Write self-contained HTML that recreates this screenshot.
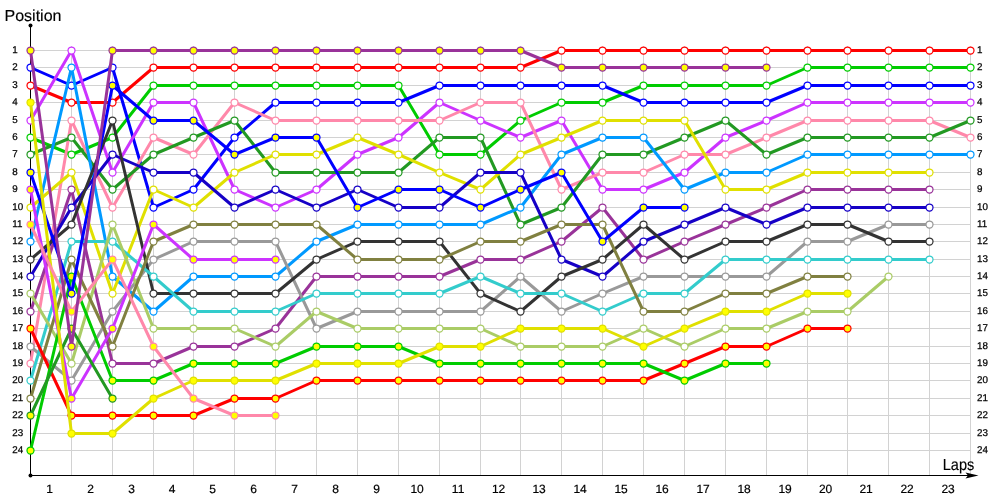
<!DOCTYPE html>
<html><head><meta charset="utf-8"><title>Lap chart</title>
<style>
html,body{margin:0;padding:0;background:#fff}
body{width:1000px;height:500px;overflow:hidden}
svg{display:block}
text{font-family:"Liberation Sans","DejaVu Sans",sans-serif;fill:#000;text-rendering:geometricPrecision}
.g line{stroke:#d2d2d2;stroke-width:1;shape-rendering:crispEdges}
.s polyline{fill:none;stroke-width:3;stroke-linejoin:round;stroke-linecap:round}
.s circle{stroke-width:1.25}
.pl{font-size:9.8px;stroke:#000;stroke-width:.25px}
.ll{font-size:12px;text-anchor:middle;stroke:#000;stroke-width:.2px}
.t{font-size:16px;stroke:#000;stroke-width:.15px}
</style></head><body>
<svg width="1000" height="500" viewBox="0 0 1000 500">
<rect width="1000" height="500" fill="#fff"/>
<g class="g">
<line x1="30" y1="50.5" x2="971" y2="50.5"/>
<line x1="30" y1="67.5" x2="971" y2="67.5"/>
<line x1="30" y1="85.5" x2="971" y2="85.5"/>
<line x1="30" y1="102.5" x2="971" y2="102.5"/>
<line x1="30" y1="120.5" x2="971" y2="120.5"/>
<line x1="30" y1="137.5" x2="971" y2="137.5"/>
<line x1="30" y1="154.5" x2="971" y2="154.5"/>
<line x1="30" y1="172.5" x2="971" y2="172.5"/>
<line x1="30" y1="189.5" x2="971" y2="189.5"/>
<line x1="30" y1="207.5" x2="971" y2="207.5"/>
<line x1="30" y1="224.5" x2="971" y2="224.5"/>
<line x1="30" y1="241.5" x2="971" y2="241.5"/>
<line x1="30" y1="259.5" x2="971" y2="259.5"/>
<line x1="30" y1="276.5" x2="971" y2="276.5"/>
<line x1="30" y1="293.5" x2="971" y2="293.5"/>
<line x1="30" y1="311.5" x2="971" y2="311.5"/>
<line x1="30" y1="328.5" x2="971" y2="328.5"/>
<line x1="30" y1="346.5" x2="971" y2="346.5"/>
<line x1="30" y1="363.5" x2="971" y2="363.5"/>
<line x1="30" y1="380.5" x2="971" y2="380.5"/>
<line x1="30" y1="398.5" x2="971" y2="398.5"/>
<line x1="30" y1="415.5" x2="971" y2="415.5"/>
<line x1="30" y1="433.5" x2="971" y2="433.5"/>
<line x1="30" y1="450.5" x2="971" y2="450.5"/>
<line x1="71.5" y1="46" x2="71.5" y2="475"/>
<line x1="112.5" y1="46" x2="112.5" y2="475"/>
<line x1="153.5" y1="46" x2="153.5" y2="475"/>
<line x1="193.5" y1="46" x2="193.5" y2="475"/>
<line x1="234.5" y1="46" x2="234.5" y2="475"/>
<line x1="275.5" y1="46" x2="275.5" y2="475"/>
<line x1="316.5" y1="46" x2="316.5" y2="475"/>
<line x1="357.5" y1="46" x2="357.5" y2="475"/>
<line x1="398.5" y1="46" x2="398.5" y2="475"/>
<line x1="439.5" y1="46" x2="439.5" y2="475"/>
<line x1="480.5" y1="46" x2="480.5" y2="475"/>
<line x1="520.5" y1="46" x2="520.5" y2="475"/>
<line x1="561.5" y1="46" x2="561.5" y2="475"/>
<line x1="602.5" y1="46" x2="602.5" y2="475"/>
<line x1="643.5" y1="46" x2="643.5" y2="475"/>
<line x1="684.5" y1="46" x2="684.5" y2="475"/>
<line x1="725.5" y1="46" x2="725.5" y2="475"/>
<line x1="766.5" y1="46" x2="766.5" y2="475"/>
<line x1="807.5" y1="46" x2="807.5" y2="475"/>
<line x1="847.5" y1="46" x2="847.5" y2="475"/>
<line x1="888.5" y1="46" x2="888.5" y2="475"/>
<line x1="929.5" y1="46" x2="929.5" y2="475"/>
<line x1="970.5" y1="46" x2="970.5" y2="475"/>
</g>
<g>
<line x1="30.5" y1="25" x2="30.5" y2="476" stroke="#000" stroke-width="1" shape-rendering="crispEdges"/>
<line x1="30" y1="475.5" x2="968" y2="475.5" stroke="#000" stroke-width="1" shape-rendering="crispEdges"/>
<circle cx="30.5" cy="25.5" r="2" fill="#000"/>
<circle cx="30.5" cy="475.5" r="2" fill="#000"/>
<path d="M978.5 475.5 L965.5 472.6 L968 475.5 L965.5 478.4 Z" fill="#000"/>
</g>
<text class="t" x="4.5" y="21">Position</text>
<text class="t" x="942.8" y="470" textLength="31.5" lengthAdjust="spacingAndGlyphs">Laps</text>
<g class="pl">
<text x="12.2" y="53.0">1</text><text x="977" y="53.0">1</text>
<text x="12.2" y="70.0">2</text><text x="977" y="70.0">2</text>
<text x="12.2" y="88.0">3</text><text x="977" y="88.0">3</text>
<text x="12.2" y="105.0">4</text><text x="977" y="105.0">4</text>
<text x="12.2" y="123.0">5</text><text x="977" y="123.0">5</text>
<text x="12.2" y="140.0">6</text><text x="977" y="140.0">6</text>
<text x="12.2" y="157.0">7</text><text x="977" y="157.0">7</text>
<text x="12.2" y="175.0">8</text><text x="977" y="175.0">8</text>
<text x="12.2" y="192.0">9</text><text x="977" y="192.0">9</text>
<text x="12.2" y="210.0">10</text><text x="977" y="210.0">10</text>
<text x="12.2" y="227.0">11</text><text x="977" y="227.0">11</text>
<text x="12.2" y="244.0">12</text><text x="977" y="244.0">12</text>
<text x="12.2" y="262.0">13</text><text x="977" y="262.0">13</text>
<text x="12.2" y="279.0">14</text><text x="977" y="279.0">14</text>
<text x="12.2" y="296.0">15</text><text x="977" y="296.0">15</text>
<text x="12.2" y="314.0">16</text><text x="977" y="314.0">16</text>
<text x="12.2" y="331.0">17</text><text x="977" y="331.0">17</text>
<text x="12.2" y="349.0">18</text><text x="977" y="349.0">18</text>
<text x="12.2" y="366.0">19</text><text x="977" y="366.0">19</text>
<text x="12.2" y="383.0">20</text><text x="977" y="383.0">20</text>
<text x="12.2" y="401.0">21</text><text x="977" y="401.0">21</text>
<text x="12.2" y="418.0">22</text><text x="977" y="418.0">22</text>
<text x="12.2" y="436.0">23</text><text x="977" y="436.0">23</text>
<text x="12.2" y="453.0">24</text><text x="977" y="453.0">24</text>
</g>
<g class="ll">
<text x="49.6" y="493">1</text>
<text x="90.6" y="493">2</text>
<text x="131.6" y="493">3</text>
<text x="172.1" y="493">4</text>
<text x="212.6" y="493">5</text>
<text x="253.6" y="493">6</text>
<text x="294.6" y="493">7</text>
<text x="335.6" y="493">8</text>
<text x="376.6" y="493">9</text>
<text x="417.1" y="493">10</text>
<text x="458.1" y="493">11</text>
<text x="498.6" y="493">12</text>
<text x="539.1" y="493">13</text>
<text x="580.1" y="493">14</text>
<text x="621.1" y="493">15</text>
<text x="662.1" y="493">16</text>
<text x="703.1" y="493">17</text>
<text x="744.1" y="493">18</text>
<text x="785.1" y="493">19</text>
<text x="825.6" y="493">20</text>
<text x="866.1" y="493">21</text>
<text x="907.1" y="493">22</text>
<text x="948.1" y="493">23</text>
</g>
<g class="s" stroke="#FF0000" fill="#FFFFFF">
<polyline points="30.5,85.5 71.5,102.5 112.5,102.5 153.5,67.5 193.5,67.5 234.5,67.5 275.5,67.5 316.5,67.5 357.5,67.5 398.5,67.5 439.5,67.5 480.5,67.5 520.5,67.5 561.5,50.5 602.5,50.5 643.5,50.5 684.5,50.5 725.5,50.5 766.5,50.5 807.5,50.5 847.5,50.5 888.5,50.5 929.5,50.5 970.5,50.5"/>
<circle cx="30.5" cy="85.5" r="3.5"/><circle cx="71.5" cy="102.5" r="3.5"/><circle cx="112.5" cy="102.5" r="3.5"/><circle cx="153.5" cy="67.5" r="3.5"/><circle cx="193.5" cy="67.5" r="3.5"/><circle cx="234.5" cy="67.5" r="3.5"/><circle cx="275.5" cy="67.5" r="3.5"/><circle cx="316.5" cy="67.5" r="3.5"/><circle cx="357.5" cy="67.5" r="3.5"/><circle cx="398.5" cy="67.5" r="3.5"/><circle cx="439.5" cy="67.5" r="3.5"/><circle cx="480.5" cy="67.5" r="3.5"/><circle cx="520.5" cy="67.5" r="3.5"/><circle cx="561.5" cy="50.5" r="3.5"/><circle cx="602.5" cy="50.5" r="3.5"/><circle cx="643.5" cy="50.5" r="3.5"/><circle cx="684.5" cy="50.5" r="3.5"/><circle cx="725.5" cy="50.5" r="3.5"/><circle cx="766.5" cy="50.5" r="3.5"/><circle cx="807.5" cy="50.5" r="3.5"/><circle cx="847.5" cy="50.5" r="3.5"/><circle cx="888.5" cy="50.5" r="3.5"/><circle cx="929.5" cy="50.5" r="3.5"/><circle cx="970.5" cy="50.5" r="3.5"/>
</g>
<g class="s" stroke="#00CC00" fill="#FFFFFF">
<polyline points="30.5,137.5 71.5,154.5 112.5,137.5 153.5,85.5 193.5,85.5 234.5,85.5 275.5,85.5 316.5,85.5 357.5,85.5 398.5,85.5 439.5,154.5 480.5,154.5 520.5,120.5 561.5,102.5 602.5,102.5 643.5,85.5 684.5,85.5 725.5,85.5 766.5,85.5 807.5,67.5 847.5,67.5 888.5,67.5 929.5,67.5 970.5,67.5"/>
<circle cx="30.5" cy="137.5" r="3.5"/><circle cx="71.5" cy="154.5" r="3.5"/><circle cx="112.5" cy="137.5" r="3.5"/><circle cx="153.5" cy="85.5" r="3.5"/><circle cx="193.5" cy="85.5" r="3.5"/><circle cx="234.5" cy="85.5" r="3.5"/><circle cx="275.5" cy="85.5" r="3.5"/><circle cx="316.5" cy="85.5" r="3.5"/><circle cx="357.5" cy="85.5" r="3.5"/><circle cx="398.5" cy="85.5" r="3.5"/><circle cx="439.5" cy="154.5" r="3.5"/><circle cx="480.5" cy="154.5" r="3.5"/><circle cx="520.5" cy="120.5" r="3.5"/><circle cx="561.5" cy="102.5" r="3.5"/><circle cx="602.5" cy="102.5" r="3.5"/><circle cx="643.5" cy="85.5" r="3.5"/><circle cx="684.5" cy="85.5" r="3.5"/><circle cx="725.5" cy="85.5" r="3.5"/><circle cx="766.5" cy="85.5" r="3.5"/><circle cx="807.5" cy="67.5" r="3.5"/><circle cx="847.5" cy="67.5" r="3.5"/><circle cx="888.5" cy="67.5" r="3.5"/><circle cx="929.5" cy="67.5" r="3.5"/><circle cx="970.5" cy="67.5" r="3.5"/>
</g>
<g class="s" stroke="#0000FF" fill="#FFFFFF">
<polyline points="30.5,67.5 71.5,85.5 112.5,67.5 153.5,207.5 193.5,189.5 234.5,137.5 275.5,102.5 316.5,102.5 357.5,102.5 398.5,102.5 439.5,85.5 480.5,85.5 520.5,85.5 561.5,85.5 602.5,85.5 643.5,102.5 684.5,102.5 725.5,102.5 766.5,102.5 807.5,85.5 847.5,85.5 888.5,85.5 929.5,85.5 970.5,85.5"/>
<circle cx="30.5" cy="67.5" r="3.5"/><circle cx="71.5" cy="85.5" r="3.5"/><circle cx="112.5" cy="67.5" r="3.5"/><circle cx="153.5" cy="207.5" r="3.5"/><circle cx="193.5" cy="189.5" r="3.5"/><circle cx="234.5" cy="137.5" r="3.5"/><circle cx="275.5" cy="102.5" r="3.5"/><circle cx="316.5" cy="102.5" r="3.5"/><circle cx="357.5" cy="102.5" r="3.5"/><circle cx="398.5" cy="102.5" r="3.5"/><circle cx="439.5" cy="85.5" r="3.5"/><circle cx="480.5" cy="85.5" r="3.5"/><circle cx="520.5" cy="85.5" r="3.5"/><circle cx="561.5" cy="85.5" r="3.5"/><circle cx="602.5" cy="85.5" r="3.5"/><circle cx="643.5" cy="102.5" r="3.5"/><circle cx="684.5" cy="102.5" r="3.5"/><circle cx="725.5" cy="102.5" r="3.5"/><circle cx="766.5" cy="102.5" r="3.5"/><circle cx="807.5" cy="85.5" r="3.5"/><circle cx="847.5" cy="85.5" r="3.5"/><circle cx="888.5" cy="85.5" r="3.5"/><circle cx="929.5" cy="85.5" r="3.5"/><circle cx="970.5" cy="85.5" r="3.5"/>
</g>
<g class="s" stroke="#CC33FF" fill="#FFFFFF">
<polyline points="30.5,120.5 71.5,50.5 112.5,172.5 153.5,102.5 193.5,102.5 234.5,189.5 275.5,207.5 316.5,189.5 357.5,154.5 398.5,137.5 439.5,102.5 480.5,120.5 520.5,137.5 561.5,120.5 602.5,189.5 643.5,189.5 684.5,172.5 725.5,137.5 766.5,120.5 807.5,102.5 847.5,102.5 888.5,102.5 929.5,102.5 970.5,102.5"/>
<circle cx="30.5" cy="120.5" r="3.5"/><circle cx="71.5" cy="50.5" r="3.5"/><circle cx="112.5" cy="172.5" r="3.5"/><circle cx="153.5" cy="102.5" r="3.5"/><circle cx="193.5" cy="102.5" r="3.5"/><circle cx="234.5" cy="189.5" r="3.5"/><circle cx="275.5" cy="207.5" r="3.5"/><circle cx="316.5" cy="189.5" r="3.5"/><circle cx="357.5" cy="154.5" r="3.5"/><circle cx="398.5" cy="137.5" r="3.5"/><circle cx="439.5" cy="102.5" r="3.5"/><circle cx="480.5" cy="120.5" r="3.5"/><circle cx="520.5" cy="137.5" r="3.5"/><circle cx="561.5" cy="120.5" r="3.5"/><circle cx="602.5" cy="189.5" r="3.5"/><circle cx="643.5" cy="189.5" r="3.5"/><circle cx="684.5" cy="172.5" r="3.5"/><circle cx="725.5" cy="137.5" r="3.5"/><circle cx="766.5" cy="120.5" r="3.5"/><circle cx="807.5" cy="102.5" r="3.5"/><circle cx="847.5" cy="102.5" r="3.5"/><circle cx="888.5" cy="102.5" r="3.5"/><circle cx="929.5" cy="102.5" r="3.5"/><circle cx="970.5" cy="102.5" r="3.5"/>
</g>
<g class="s" stroke="#FF88AA" fill="#FFFFFF">
<polyline points="30.5,363.5 71.5,120.5 112.5,207.5 153.5,137.5 193.5,154.5 234.5,102.5 275.5,120.5 316.5,120.5 357.5,120.5 398.5,120.5 439.5,120.5 480.5,102.5 520.5,102.5 561.5,189.5 602.5,172.5 643.5,172.5 684.5,154.5 725.5,154.5 766.5,137.5 807.5,120.5 847.5,120.5 888.5,120.5 929.5,120.5 970.5,137.5"/>
<circle cx="30.5" cy="363.5" r="3.5"/><circle cx="71.5" cy="120.5" r="3.5"/><circle cx="112.5" cy="207.5" r="3.5"/><circle cx="153.5" cy="137.5" r="3.5"/><circle cx="193.5" cy="154.5" r="3.5"/><circle cx="234.5" cy="102.5" r="3.5"/><circle cx="275.5" cy="120.5" r="3.5"/><circle cx="316.5" cy="120.5" r="3.5"/><circle cx="357.5" cy="120.5" r="3.5"/><circle cx="398.5" cy="120.5" r="3.5"/><circle cx="439.5" cy="120.5" r="3.5"/><circle cx="480.5" cy="102.5" r="3.5"/><circle cx="520.5" cy="102.5" r="3.5"/><circle cx="561.5" cy="189.5" r="3.5"/><circle cx="602.5" cy="172.5" r="3.5"/><circle cx="643.5" cy="172.5" r="3.5"/><circle cx="684.5" cy="154.5" r="3.5"/><circle cx="725.5" cy="154.5" r="3.5"/><circle cx="766.5" cy="137.5" r="3.5"/><circle cx="807.5" cy="120.5" r="3.5"/><circle cx="847.5" cy="120.5" r="3.5"/><circle cx="888.5" cy="120.5" r="3.5"/><circle cx="929.5" cy="120.5" r="3.5"/><circle cx="970.5" cy="137.5" r="3.5"/>
</g>
<g class="s" stroke="#229922" fill="#FFFFFF">
<polyline points="30.5,154.5 71.5,137.5 112.5,189.5 153.5,154.5 193.5,137.5 234.5,120.5 275.5,172.5 316.5,172.5 357.5,172.5 398.5,172.5 439.5,137.5 480.5,137.5 520.5,224.5 561.5,207.5 602.5,154.5 643.5,154.5 684.5,137.5 725.5,120.5 766.5,154.5 807.5,137.5 847.5,137.5 888.5,137.5 929.5,137.5 970.5,120.5"/>
<circle cx="30.5" cy="154.5" r="3.5"/><circle cx="71.5" cy="137.5" r="3.5"/><circle cx="112.5" cy="189.5" r="3.5"/><circle cx="153.5" cy="154.5" r="3.5"/><circle cx="193.5" cy="137.5" r="3.5"/><circle cx="234.5" cy="120.5" r="3.5"/><circle cx="275.5" cy="172.5" r="3.5"/><circle cx="316.5" cy="172.5" r="3.5"/><circle cx="357.5" cy="172.5" r="3.5"/><circle cx="398.5" cy="172.5" r="3.5"/><circle cx="439.5" cy="137.5" r="3.5"/><circle cx="480.5" cy="137.5" r="3.5"/><circle cx="520.5" cy="224.5" r="3.5"/><circle cx="561.5" cy="207.5" r="3.5"/><circle cx="602.5" cy="154.5" r="3.5"/><circle cx="643.5" cy="154.5" r="3.5"/><circle cx="684.5" cy="137.5" r="3.5"/><circle cx="725.5" cy="120.5" r="3.5"/><circle cx="766.5" cy="154.5" r="3.5"/><circle cx="807.5" cy="137.5" r="3.5"/><circle cx="847.5" cy="137.5" r="3.5"/><circle cx="888.5" cy="137.5" r="3.5"/><circle cx="929.5" cy="137.5" r="3.5"/><circle cx="970.5" cy="120.5" r="3.5"/>
</g>
<g class="s" stroke="#0099FF" fill="#FFFFFF">
<polyline points="30.5,241.5 71.5,67.5 112.5,276.5 153.5,311.5 193.5,276.5 234.5,276.5 275.5,276.5 316.5,241.5 357.5,224.5 398.5,224.5 439.5,224.5 480.5,224.5 520.5,207.5 561.5,154.5 602.5,137.5 643.5,137.5 684.5,189.5 725.5,172.5 766.5,172.5 807.5,154.5 847.5,154.5 888.5,154.5 929.5,154.5 970.5,154.5"/>
<circle cx="30.5" cy="241.5" r="3.5"/><circle cx="71.5" cy="67.5" r="3.5"/><circle cx="112.5" cy="276.5" r="3.5"/><circle cx="153.5" cy="311.5" r="3.5"/><circle cx="193.5" cy="276.5" r="3.5"/><circle cx="234.5" cy="276.5" r="3.5"/><circle cx="275.5" cy="276.5" r="3.5"/><circle cx="316.5" cy="241.5" r="3.5"/><circle cx="357.5" cy="224.5" r="3.5"/><circle cx="398.5" cy="224.5" r="3.5"/><circle cx="439.5" cy="224.5" r="3.5"/><circle cx="480.5" cy="224.5" r="3.5"/><circle cx="520.5" cy="207.5" r="3.5"/><circle cx="561.5" cy="154.5" r="3.5"/><circle cx="602.5" cy="137.5" r="3.5"/><circle cx="643.5" cy="137.5" r="3.5"/><circle cx="684.5" cy="189.5" r="3.5"/><circle cx="725.5" cy="172.5" r="3.5"/><circle cx="766.5" cy="172.5" r="3.5"/><circle cx="807.5" cy="154.5" r="3.5"/><circle cx="847.5" cy="154.5" r="3.5"/><circle cx="888.5" cy="154.5" r="3.5"/><circle cx="929.5" cy="154.5" r="3.5"/><circle cx="970.5" cy="154.5" r="3.5"/>
</g>
<g class="s" stroke="#E0E000" fill="#FFFFFF">
<polyline points="30.5,207.5 71.5,172.5 112.5,293.5 153.5,189.5 193.5,207.5 234.5,172.5 275.5,154.5 316.5,154.5 357.5,137.5 398.5,154.5 439.5,172.5 480.5,189.5 520.5,154.5 561.5,137.5 602.5,120.5 643.5,120.5 684.5,120.5 725.5,189.5 766.5,189.5 807.5,172.5 847.5,172.5 888.5,172.5 929.5,172.5"/>
<circle cx="30.5" cy="207.5" r="3.5"/><circle cx="71.5" cy="172.5" r="3.5"/><circle cx="112.5" cy="293.5" r="3.5"/><circle cx="153.5" cy="189.5" r="3.5"/><circle cx="193.5" cy="207.5" r="3.5"/><circle cx="234.5" cy="172.5" r="3.5"/><circle cx="275.5" cy="154.5" r="3.5"/><circle cx="316.5" cy="154.5" r="3.5"/><circle cx="357.5" cy="137.5" r="3.5"/><circle cx="398.5" cy="154.5" r="3.5"/><circle cx="439.5" cy="172.5" r="3.5"/><circle cx="480.5" cy="189.5" r="3.5"/><circle cx="520.5" cy="154.5" r="3.5"/><circle cx="561.5" cy="137.5" r="3.5"/><circle cx="602.5" cy="120.5" r="3.5"/><circle cx="643.5" cy="120.5" r="3.5"/><circle cx="684.5" cy="120.5" r="3.5"/><circle cx="725.5" cy="189.5" r="3.5"/><circle cx="766.5" cy="189.5" r="3.5"/><circle cx="807.5" cy="172.5" r="3.5"/><circle cx="847.5" cy="172.5" r="3.5"/><circle cx="888.5" cy="172.5" r="3.5"/><circle cx="929.5" cy="172.5" r="3.5"/>
</g>
<g class="s" stroke="#993399" fill="#FFFFFF">
<polyline points="30.5,311.5 71.5,189.5 112.5,363.5 153.5,363.5 193.5,346.5 234.5,346.5 275.5,328.5 316.5,276.5 357.5,276.5 398.5,276.5 439.5,276.5 480.5,259.5 520.5,259.5 561.5,241.5 602.5,207.5 643.5,259.5 684.5,241.5 725.5,224.5 766.5,207.5 807.5,189.5 847.5,189.5 888.5,189.5 929.5,189.5"/>
<circle cx="30.5" cy="311.5" r="3.5"/><circle cx="71.5" cy="189.5" r="3.5"/><circle cx="112.5" cy="363.5" r="3.5"/><circle cx="153.5" cy="363.5" r="3.5"/><circle cx="193.5" cy="346.5" r="3.5"/><circle cx="234.5" cy="346.5" r="3.5"/><circle cx="275.5" cy="328.5" r="3.5"/><circle cx="316.5" cy="276.5" r="3.5"/><circle cx="357.5" cy="276.5" r="3.5"/><circle cx="398.5" cy="276.5" r="3.5"/><circle cx="439.5" cy="276.5" r="3.5"/><circle cx="480.5" cy="259.5" r="3.5"/><circle cx="520.5" cy="259.5" r="3.5"/><circle cx="561.5" cy="241.5" r="3.5"/><circle cx="602.5" cy="207.5" r="3.5"/><circle cx="643.5" cy="259.5" r="3.5"/><circle cx="684.5" cy="241.5" r="3.5"/><circle cx="725.5" cy="224.5" r="3.5"/><circle cx="766.5" cy="207.5" r="3.5"/><circle cx="807.5" cy="189.5" r="3.5"/><circle cx="847.5" cy="189.5" r="3.5"/><circle cx="888.5" cy="189.5" r="3.5"/><circle cx="929.5" cy="189.5" r="3.5"/>
</g>
<g class="s" stroke="#1600C6" fill="#FFFFFF">
<polyline points="30.5,276.5 71.5,207.5 112.5,154.5 153.5,172.5 193.5,172.5 234.5,207.5 275.5,189.5 316.5,207.5 357.5,189.5 398.5,207.5 439.5,207.5 480.5,172.5 520.5,172.5 561.5,259.5 602.5,276.5 643.5,241.5 684.5,224.5 725.5,207.5 766.5,224.5 807.5,207.5 847.5,207.5 888.5,207.5 929.5,207.5"/>
<circle cx="30.5" cy="276.5" r="3.5"/><circle cx="71.5" cy="207.5" r="3.5"/><circle cx="112.5" cy="154.5" r="3.5"/><circle cx="153.5" cy="172.5" r="3.5"/><circle cx="193.5" cy="172.5" r="3.5"/><circle cx="234.5" cy="207.5" r="3.5"/><circle cx="275.5" cy="189.5" r="3.5"/><circle cx="316.5" cy="207.5" r="3.5"/><circle cx="357.5" cy="189.5" r="3.5"/><circle cx="398.5" cy="207.5" r="3.5"/><circle cx="439.5" cy="207.5" r="3.5"/><circle cx="480.5" cy="172.5" r="3.5"/><circle cx="520.5" cy="172.5" r="3.5"/><circle cx="561.5" cy="259.5" r="3.5"/><circle cx="602.5" cy="276.5" r="3.5"/><circle cx="643.5" cy="241.5" r="3.5"/><circle cx="684.5" cy="224.5" r="3.5"/><circle cx="725.5" cy="207.5" r="3.5"/><circle cx="766.5" cy="224.5" r="3.5"/><circle cx="807.5" cy="207.5" r="3.5"/><circle cx="847.5" cy="207.5" r="3.5"/><circle cx="888.5" cy="207.5" r="3.5"/><circle cx="929.5" cy="207.5" r="3.5"/>
</g>
<g class="s" stroke="#999999" fill="#FFFFFF">
<polyline points="30.5,346.5 71.5,380.5 112.5,311.5 153.5,259.5 193.5,241.5 234.5,241.5 275.5,241.5 316.5,328.5 357.5,311.5 398.5,311.5 439.5,311.5 480.5,311.5 520.5,276.5 561.5,311.5 602.5,293.5 643.5,276.5 684.5,276.5 725.5,276.5 766.5,276.5 807.5,241.5 847.5,241.5 888.5,224.5 929.5,224.5"/>
<circle cx="30.5" cy="346.5" r="3.5"/><circle cx="71.5" cy="380.5" r="3.5"/><circle cx="112.5" cy="311.5" r="3.5"/><circle cx="153.5" cy="259.5" r="3.5"/><circle cx="193.5" cy="241.5" r="3.5"/><circle cx="234.5" cy="241.5" r="3.5"/><circle cx="275.5" cy="241.5" r="3.5"/><circle cx="316.5" cy="328.5" r="3.5"/><circle cx="357.5" cy="311.5" r="3.5"/><circle cx="398.5" cy="311.5" r="3.5"/><circle cx="439.5" cy="311.5" r="3.5"/><circle cx="480.5" cy="311.5" r="3.5"/><circle cx="520.5" cy="276.5" r="3.5"/><circle cx="561.5" cy="311.5" r="3.5"/><circle cx="602.5" cy="293.5" r="3.5"/><circle cx="643.5" cy="276.5" r="3.5"/><circle cx="684.5" cy="276.5" r="3.5"/><circle cx="725.5" cy="276.5" r="3.5"/><circle cx="766.5" cy="276.5" r="3.5"/><circle cx="807.5" cy="241.5" r="3.5"/><circle cx="847.5" cy="241.5" r="3.5"/><circle cx="888.5" cy="224.5" r="3.5"/><circle cx="929.5" cy="224.5" r="3.5"/>
</g>
<g class="s" stroke="#333333" fill="#FFFFFF">
<polyline points="30.5,259.5 71.5,224.5 112.5,120.5 153.5,293.5 193.5,293.5 234.5,293.5 275.5,293.5 316.5,259.5 357.5,241.5 398.5,241.5 439.5,241.5 480.5,293.5 520.5,311.5 561.5,276.5 602.5,259.5 643.5,224.5 684.5,259.5 725.5,241.5 766.5,241.5 807.5,224.5 847.5,224.5 888.5,241.5 929.5,241.5"/>
<circle cx="30.5" cy="259.5" r="3.5"/><circle cx="71.5" cy="224.5" r="3.5"/><circle cx="112.5" cy="120.5" r="3.5"/><circle cx="153.5" cy="293.5" r="3.5"/><circle cx="193.5" cy="293.5" r="3.5"/><circle cx="234.5" cy="293.5" r="3.5"/><circle cx="275.5" cy="293.5" r="3.5"/><circle cx="316.5" cy="259.5" r="3.5"/><circle cx="357.5" cy="241.5" r="3.5"/><circle cx="398.5" cy="241.5" r="3.5"/><circle cx="439.5" cy="241.5" r="3.5"/><circle cx="480.5" cy="293.5" r="3.5"/><circle cx="520.5" cy="311.5" r="3.5"/><circle cx="561.5" cy="276.5" r="3.5"/><circle cx="602.5" cy="259.5" r="3.5"/><circle cx="643.5" cy="224.5" r="3.5"/><circle cx="684.5" cy="259.5" r="3.5"/><circle cx="725.5" cy="241.5" r="3.5"/><circle cx="766.5" cy="241.5" r="3.5"/><circle cx="807.5" cy="224.5" r="3.5"/><circle cx="847.5" cy="224.5" r="3.5"/><circle cx="888.5" cy="241.5" r="3.5"/><circle cx="929.5" cy="241.5" r="3.5"/>
</g>
<g class="s" stroke="#33CCCC" fill="#FFFFFF">
<polyline points="30.5,380.5 71.5,241.5 112.5,241.5 153.5,276.5 193.5,311.5 234.5,311.5 275.5,311.5 316.5,293.5 357.5,293.5 398.5,293.5 439.5,293.5 480.5,276.5 520.5,293.5 561.5,293.5 602.5,311.5 643.5,293.5 684.5,293.5 725.5,259.5 766.5,259.5 807.5,259.5 847.5,259.5 888.5,259.5 929.5,259.5"/>
<circle cx="30.5" cy="380.5" r="3.5"/><circle cx="71.5" cy="241.5" r="3.5"/><circle cx="112.5" cy="241.5" r="3.5"/><circle cx="153.5" cy="276.5" r="3.5"/><circle cx="193.5" cy="311.5" r="3.5"/><circle cx="234.5" cy="311.5" r="3.5"/><circle cx="275.5" cy="311.5" r="3.5"/><circle cx="316.5" cy="293.5" r="3.5"/><circle cx="357.5" cy="293.5" r="3.5"/><circle cx="398.5" cy="293.5" r="3.5"/><circle cx="439.5" cy="293.5" r="3.5"/><circle cx="480.5" cy="276.5" r="3.5"/><circle cx="520.5" cy="293.5" r="3.5"/><circle cx="561.5" cy="293.5" r="3.5"/><circle cx="602.5" cy="311.5" r="3.5"/><circle cx="643.5" cy="293.5" r="3.5"/><circle cx="684.5" cy="293.5" r="3.5"/><circle cx="725.5" cy="259.5" r="3.5"/><circle cx="766.5" cy="259.5" r="3.5"/><circle cx="807.5" cy="259.5" r="3.5"/><circle cx="847.5" cy="259.5" r="3.5"/><circle cx="888.5" cy="259.5" r="3.5"/><circle cx="929.5" cy="259.5" r="3.5"/>
</g>
<g class="s" stroke="#AACC66" fill="#FFFFFF">
<polyline points="30.5,293.5 71.5,363.5 112.5,224.5 153.5,328.5 193.5,328.5 234.5,328.5 275.5,346.5 316.5,311.5 357.5,328.5 398.5,328.5 439.5,328.5 480.5,328.5 520.5,346.5 561.5,346.5 602.5,346.5 643.5,328.5 684.5,346.5 725.5,328.5 766.5,328.5 807.5,311.5 847.5,311.5 888.5,276.5"/>
<circle cx="30.5" cy="293.5" r="3.5"/><circle cx="71.5" cy="363.5" r="3.5"/><circle cx="112.5" cy="224.5" r="3.5"/><circle cx="153.5" cy="328.5" r="3.5"/><circle cx="193.5" cy="328.5" r="3.5"/><circle cx="234.5" cy="328.5" r="3.5"/><circle cx="275.5" cy="346.5" r="3.5"/><circle cx="316.5" cy="311.5" r="3.5"/><circle cx="357.5" cy="328.5" r="3.5"/><circle cx="398.5" cy="328.5" r="3.5"/><circle cx="439.5" cy="328.5" r="3.5"/><circle cx="480.5" cy="328.5" r="3.5"/><circle cx="520.5" cy="346.5" r="3.5"/><circle cx="561.5" cy="346.5" r="3.5"/><circle cx="602.5" cy="346.5" r="3.5"/><circle cx="643.5" cy="328.5" r="3.5"/><circle cx="684.5" cy="346.5" r="3.5"/><circle cx="725.5" cy="328.5" r="3.5"/><circle cx="766.5" cy="328.5" r="3.5"/><circle cx="807.5" cy="311.5" r="3.5"/><circle cx="847.5" cy="311.5" r="3.5"/><circle cx="888.5" cy="276.5" r="3.5"/>
</g>
<g class="s" stroke="#808040" fill="#FFFFFF">
<polyline points="30.5,398.5 71.5,259.5 112.5,346.5 153.5,241.5 193.5,224.5 234.5,224.5 275.5,224.5 316.5,224.5 357.5,259.5 398.5,259.5 439.5,259.5 480.5,241.5 520.5,241.5 561.5,224.5 602.5,224.5 643.5,311.5 684.5,311.5 725.5,293.5 766.5,293.5 807.5,276.5 847.5,276.5"/>
<circle cx="30.5" cy="398.5" r="3.5"/><circle cx="71.5" cy="259.5" r="3.5"/><circle cx="112.5" cy="346.5" r="3.5"/><circle cx="153.5" cy="241.5" r="3.5"/><circle cx="193.5" cy="224.5" r="3.5"/><circle cx="234.5" cy="224.5" r="3.5"/><circle cx="275.5" cy="224.5" r="3.5"/><circle cx="316.5" cy="224.5" r="3.5"/><circle cx="357.5" cy="259.5" r="3.5"/><circle cx="398.5" cy="259.5" r="3.5"/><circle cx="439.5" cy="259.5" r="3.5"/><circle cx="480.5" cy="241.5" r="3.5"/><circle cx="520.5" cy="241.5" r="3.5"/><circle cx="561.5" cy="224.5" r="3.5"/><circle cx="602.5" cy="224.5" r="3.5"/><circle cx="643.5" cy="311.5" r="3.5"/><circle cx="684.5" cy="311.5" r="3.5"/><circle cx="725.5" cy="293.5" r="3.5"/><circle cx="766.5" cy="293.5" r="3.5"/><circle cx="807.5" cy="276.5" r="3.5"/><circle cx="847.5" cy="276.5" r="3.5"/>
</g>
<g class="s" stroke="#FF0000" fill="#FFFF00">
<polyline points="30.5,328.5 71.5,415.5 112.5,415.5 153.5,415.5 193.5,415.5 234.5,398.5 275.5,398.5 316.5,380.5 357.5,380.5 398.5,380.5 439.5,380.5 480.5,380.5 520.5,380.5 561.5,380.5 602.5,380.5 643.5,380.5 684.5,363.5 725.5,346.5 766.5,346.5 807.5,328.5 847.5,328.5"/>
<circle cx="30.5" cy="328.5" r="3.5"/><circle cx="71.5" cy="415.5" r="3.5"/><circle cx="112.5" cy="415.5" r="3.5"/><circle cx="153.5" cy="415.5" r="3.5"/><circle cx="193.5" cy="415.5" r="3.5"/><circle cx="234.5" cy="398.5" r="3.5"/><circle cx="275.5" cy="398.5" r="3.5"/><circle cx="316.5" cy="380.5" r="3.5"/><circle cx="357.5" cy="380.5" r="3.5"/><circle cx="398.5" cy="380.5" r="3.5"/><circle cx="439.5" cy="380.5" r="3.5"/><circle cx="480.5" cy="380.5" r="3.5"/><circle cx="520.5" cy="380.5" r="3.5"/><circle cx="561.5" cy="380.5" r="3.5"/><circle cx="602.5" cy="380.5" r="3.5"/><circle cx="643.5" cy="380.5" r="3.5"/><circle cx="684.5" cy="363.5" r="3.5"/><circle cx="725.5" cy="346.5" r="3.5"/><circle cx="766.5" cy="346.5" r="3.5"/><circle cx="807.5" cy="328.5" r="3.5"/><circle cx="847.5" cy="328.5" r="3.5"/>
</g>
<g class="s" stroke="#00CC00" fill="#FFFF00">
<polyline points="30.5,450.5 71.5,276.5 112.5,380.5 153.5,380.5 193.5,363.5 234.5,363.5 275.5,363.5 316.5,346.5 357.5,346.5 398.5,346.5 439.5,363.5 480.5,363.5 520.5,363.5 561.5,363.5 602.5,363.5 643.5,363.5 684.5,380.5 725.5,363.5 766.5,363.5"/>
<circle cx="30.5" cy="450.5" r="3.5"/><circle cx="71.5" cy="276.5" r="3.5"/><circle cx="112.5" cy="380.5" r="3.5"/><circle cx="153.5" cy="380.5" r="3.5"/><circle cx="193.5" cy="363.5" r="3.5"/><circle cx="234.5" cy="363.5" r="3.5"/><circle cx="275.5" cy="363.5" r="3.5"/><circle cx="316.5" cy="346.5" r="3.5"/><circle cx="357.5" cy="346.5" r="3.5"/><circle cx="398.5" cy="346.5" r="3.5"/><circle cx="439.5" cy="363.5" r="3.5"/><circle cx="480.5" cy="363.5" r="3.5"/><circle cx="520.5" cy="363.5" r="3.5"/><circle cx="561.5" cy="363.5" r="3.5"/><circle cx="602.5" cy="363.5" r="3.5"/><circle cx="643.5" cy="363.5" r="3.5"/><circle cx="684.5" cy="380.5" r="3.5"/><circle cx="725.5" cy="363.5" r="3.5"/><circle cx="766.5" cy="363.5" r="3.5"/>
</g>
<g class="s" stroke="#0000FF" fill="#FFFF00">
<polyline points="30.5,172.5 71.5,293.5 112.5,85.5 153.5,120.5 193.5,120.5 234.5,154.5 275.5,137.5 316.5,137.5 357.5,207.5 398.5,189.5 439.5,189.5 480.5,207.5 520.5,189.5 561.5,172.5 602.5,241.5 643.5,207.5 684.5,207.5"/>
<circle cx="30.5" cy="172.5" r="3.5"/><circle cx="71.5" cy="293.5" r="3.5"/><circle cx="112.5" cy="85.5" r="3.5"/><circle cx="153.5" cy="120.5" r="3.5"/><circle cx="193.5" cy="120.5" r="3.5"/><circle cx="234.5" cy="154.5" r="3.5"/><circle cx="275.5" cy="137.5" r="3.5"/><circle cx="316.5" cy="137.5" r="3.5"/><circle cx="357.5" cy="207.5" r="3.5"/><circle cx="398.5" cy="189.5" r="3.5"/><circle cx="439.5" cy="189.5" r="3.5"/><circle cx="480.5" cy="207.5" r="3.5"/><circle cx="520.5" cy="189.5" r="3.5"/><circle cx="561.5" cy="172.5" r="3.5"/><circle cx="602.5" cy="241.5" r="3.5"/><circle cx="643.5" cy="207.5" r="3.5"/><circle cx="684.5" cy="207.5" r="3.5"/>
</g>
<g class="s" stroke="#CC33FF" fill="#FFFF00">
<polyline points="30.5,189.5 71.5,398.5 112.5,328.5 153.5,224.5 193.5,259.5 234.5,259.5 275.5,259.5"/>
<circle cx="30.5" cy="189.5" r="3.5"/><circle cx="71.5" cy="398.5" r="3.5"/><circle cx="112.5" cy="328.5" r="3.5"/><circle cx="153.5" cy="224.5" r="3.5"/><circle cx="193.5" cy="259.5" r="3.5"/><circle cx="234.5" cy="259.5" r="3.5"/><circle cx="275.5" cy="259.5" r="3.5"/>
</g>
<g class="s" stroke="#229922" fill="#FFFF00">
<polyline points="30.5,415.5 71.5,328.5 112.5,398.5"/>
<circle cx="30.5" cy="415.5" r="3.5"/><circle cx="71.5" cy="328.5" r="3.5"/><circle cx="112.5" cy="398.5" r="3.5"/>
</g>
<g class="s" stroke="#E0E000" fill="#FFFF00">
<polyline points="30.5,102.5 71.5,433.5 112.5,433.5 153.5,398.5 193.5,380.5 234.5,380.5 275.5,380.5 316.5,363.5 357.5,363.5 398.5,363.5 439.5,346.5 480.5,346.5 520.5,328.5 561.5,328.5 602.5,328.5 643.5,346.5 684.5,328.5 725.5,311.5 766.5,311.5 807.5,293.5 847.5,293.5"/>
<circle cx="30.5" cy="102.5" r="3.5"/><circle cx="71.5" cy="433.5" r="3.5"/><circle cx="112.5" cy="433.5" r="3.5"/><circle cx="153.5" cy="398.5" r="3.5"/><circle cx="193.5" cy="380.5" r="3.5"/><circle cx="234.5" cy="380.5" r="3.5"/><circle cx="275.5" cy="380.5" r="3.5"/><circle cx="316.5" cy="363.5" r="3.5"/><circle cx="357.5" cy="363.5" r="3.5"/><circle cx="398.5" cy="363.5" r="3.5"/><circle cx="439.5" cy="346.5" r="3.5"/><circle cx="480.5" cy="346.5" r="3.5"/><circle cx="520.5" cy="328.5" r="3.5"/><circle cx="561.5" cy="328.5" r="3.5"/><circle cx="602.5" cy="328.5" r="3.5"/><circle cx="643.5" cy="346.5" r="3.5"/><circle cx="684.5" cy="328.5" r="3.5"/><circle cx="725.5" cy="311.5" r="3.5"/><circle cx="766.5" cy="311.5" r="3.5"/><circle cx="807.5" cy="293.5" r="3.5"/><circle cx="847.5" cy="293.5" r="3.5"/>
</g>
<g class="s" stroke="#FF88AA" fill="#FFFF00">
<polyline points="30.5,224.5 71.5,311.5 112.5,259.5 153.5,346.5 193.5,398.5 234.5,415.5 275.5,415.5"/>
<circle cx="30.5" cy="224.5" r="3.5"/><circle cx="71.5" cy="311.5" r="3.5"/><circle cx="112.5" cy="259.5" r="3.5"/><circle cx="153.5" cy="346.5" r="3.5"/><circle cx="193.5" cy="398.5" r="3.5"/><circle cx="234.5" cy="415.5" r="3.5"/><circle cx="275.5" cy="415.5" r="3.5"/>
</g>
<g class="s" stroke="#993399" fill="#FFFF00">
<polyline points="30.5,50.5 71.5,346.5 112.5,50.5 153.5,50.5 193.5,50.5 234.5,50.5 275.5,50.5 316.5,50.5 357.5,50.5 398.5,50.5 439.5,50.5 480.5,50.5 520.5,50.5 561.5,67.5 602.5,67.5 643.5,67.5 684.5,67.5 725.5,67.5 766.5,67.5"/>
<circle cx="30.5" cy="50.5" r="3.5"/><circle cx="71.5" cy="346.5" r="3.5"/><circle cx="112.5" cy="50.5" r="3.5"/><circle cx="153.5" cy="50.5" r="3.5"/><circle cx="193.5" cy="50.5" r="3.5"/><circle cx="234.5" cy="50.5" r="3.5"/><circle cx="275.5" cy="50.5" r="3.5"/><circle cx="316.5" cy="50.5" r="3.5"/><circle cx="357.5" cy="50.5" r="3.5"/><circle cx="398.5" cy="50.5" r="3.5"/><circle cx="439.5" cy="50.5" r="3.5"/><circle cx="480.5" cy="50.5" r="3.5"/><circle cx="520.5" cy="50.5" r="3.5"/><circle cx="561.5" cy="67.5" r="3.5"/><circle cx="602.5" cy="67.5" r="3.5"/><circle cx="643.5" cy="67.5" r="3.5"/><circle cx="684.5" cy="67.5" r="3.5"/><circle cx="725.5" cy="67.5" r="3.5"/><circle cx="766.5" cy="67.5" r="3.5"/>
</g>
</svg>
</body></html>
